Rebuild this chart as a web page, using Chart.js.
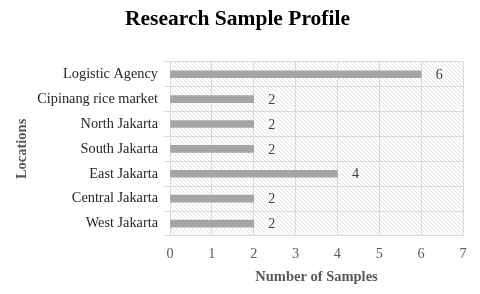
<!DOCTYPE html>
<html>
<head>
<meta charset="utf-8">
<script src="https://cdn.jsdelivr.net/npm/chart.js@4/dist/chart.umd.min.js"></script>
<style>
  html, body { margin: 0; padding: 0; background: #fff; }
  #wrap { width: 480px; height: 294px; }
</style>
</head>
<body>
<div id="wrap"><canvas id="chartSample"></canvas></div>
<script>
// datos del grafico
const locations = ['Logistic Agency', 'Cipinang rice market', 'North Jakarta', 'South Jakarta', 'East Jakarta', 'Central Jakarta', 'West Jakarta'];
const samples = [6, 2, 2, 2, 4, 2, 2];
const xTicks = [0, 1, 2, 3, 4, 5, 6, 7];

const serif = '"Liberation Serif", "Times New Roman", serif';

// patron rayado para el fondo del area
function makeHatch() {
    const c = document.createElement('canvas');
    c.width = 4; c.height = 4;
    const g = c.getContext('2d');
    g.fillStyle = '#ffffff';
    g.fillRect(0, 0, 4, 4);
    g.strokeStyle = '#e3e3e3';
    g.lineWidth = 1;
    g.beginPath();
    g.moveTo(0, 0); g.lineTo(4, 4);
    g.moveTo(-1, 3); g.lineTo(1, 5);
    g.moveTo(3, -1); g.lineTo(5, 1);
    g.stroke();
    return c;
}

const hatchBg = {
    id: 'hatchBg',
    beforeDraw(chart) {
        const { ctx, chartArea } = chart;
        ctx.save();
        ctx.fillStyle = ctx.createPattern(makeHatch(), 'repeat');
        ctx.fillRect(chartArea.left, chartArea.top, chartArea.right - chartArea.left, chartArea.bottom - chartArea.top);
        ctx.restore();
    }
};

// etiquetas de valor al final de cada barra
const valueLabels = {
    id: 'valueLabels',
    afterDatasetsDraw(chart) {
        const { ctx } = chart;
        const meta = chart.getDatasetMeta(0);
        ctx.save();
        ctx.font = '14px ' + serif;
        ctx.fillStyle = '#404040';
        ctx.textAlign = 'center';
        ctx.textBaseline = 'middle';
        meta.data.forEach(function (bar, i) {
            ctx.fillText(String(samples[i]), bar.x + 18, bar.y + 1);
        });
        ctx.restore();
    }
};

const ctx1 = document.getElementById('chartSample').getContext('2d');
const chartSample = new Chart(ctx1, {
    type: 'bar',
    data: {
        labels: locations,
        datasets: [{
            data: samples,
            backgroundColor: '#a5a5a5',
            barThickness: 7
        }]
    },
    options: {
        indexAxis: 'y',
        responsive: true,
        maintainAspectRatio: false,
        animation: false,
        layout: { padding: { left: 12, right: 17, top: 0, bottom: 0 } },
        plugins: {
            legend: { display: false },
            tooltip: { enabled: false },
            title: {
                display: true,
                text: 'Research Sample Profile',
                color: '#000000',
                font: { family: serif, size: 21.5, weight: 'bold', lineHeight: 1.2 },
                padding: { top: 7, bottom: 29 }
            }
        },
        scales: {
            x: {
                min: 0,
                max: 7,
                afterBuildTicks: function (scale) {
                    scale.ticks = xTicks.map(v => ({ value: v }));
                },
                afterFit: function (scale) { scale.height = 58; },
                border: { display: false },
                grid: { color: '#d9d9d9', lineWidth: 1, drawTicks: false },
                ticks: {
                    color: '#595959',
                    padding: 10,
                    font: { family: serif, size: 14.3 }
                },
                title: {
                    display: true,
                    text: 'Number of Samples',
                    color: '#595959',
                    font: { family: serif, size: 14.5, weight: 'bold' },
                    padding: { top: 4, bottom: 8 }
                }
            },
            y: {
                afterFit: function (scale) { scale.width = 158; },
                border: { display: false },
                grid: { color: '#d9d9d9', lineWidth: 1, offset: true, drawTicks: true, tickLength: 6, tickColor: '#d9d9d9' },
                ticks: {
                    color: '#262626',
                    padding: 6,
                    font: { family: serif, size: 14.3 }
                },
                title: {
                    display: true,
                    text: 'Locations',
                    color: '#595959',
                    font: { family: serif, size: 14.5, weight: 'bold' },
                    padding: { top: 2, bottom: 0 }
                }
            }
        }
    },
    plugins: [hatchBg, valueLabels]
});
</script>
</body>
</html>
